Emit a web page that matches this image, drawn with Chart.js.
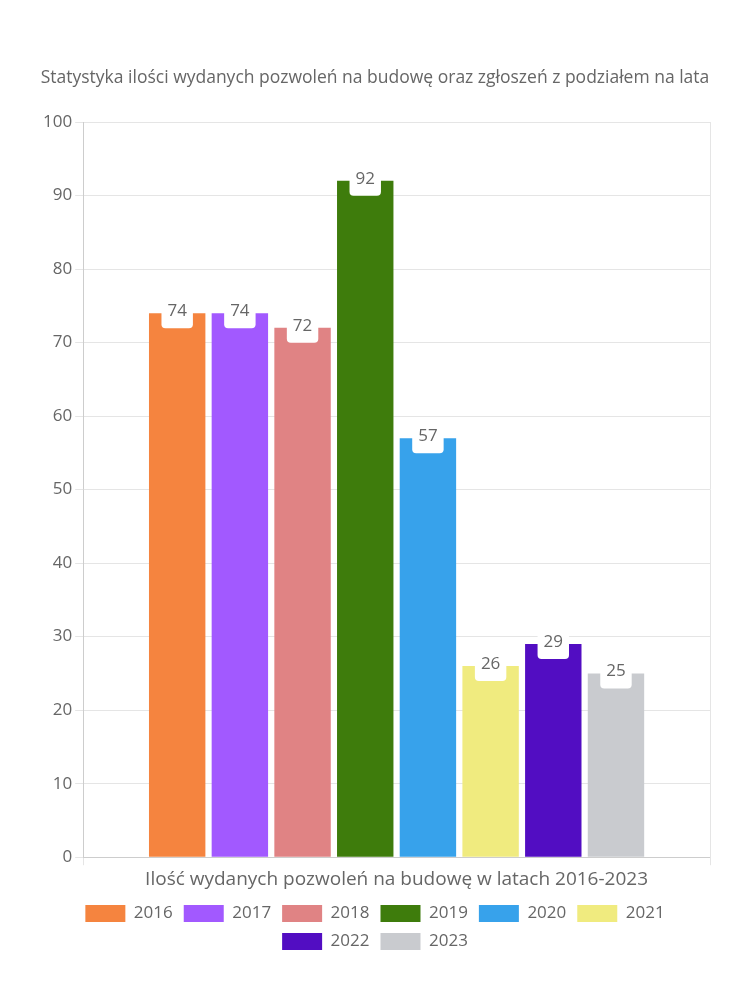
<!DOCTYPE html>
<html>
<head>
<meta charset="utf-8">
<script src="https://cdn.jsdelivr.net/npm/chart.js@4"></script>
<style>
  body { margin: 0; background: #fff; }
  #wrap { width: 750px; height: 1000px; }
</style>
</head>
<body>
<div id="wrap"><canvas id="chart"></canvas></div>
<script>
const categories = ["Ilość wydanych pozwoleń na budowę w latach 2016-2023"];
const years = ["2016", "2017", "2018", "2019", "2020", "2021", "2022", "2023"];
const permits = [74, 74, 72, 92, 57, 26, 29, 25];
const colors = ["#F5843F", "#A259FF", "#E08384", "#3E7C0C", "#37A2EB", "#F0EB7F", "#520DC2", "#C9CBCF"];
const yTicks = [0, 10, 20, 30, 40, 50, 60, 70, 80, 90, 100];

const FONT = "'Open Sans'";
const GREY = "#666";

// white rounded tag with the value at the top of every bar
const valueTags = {
  id: "valueTags",
  afterDatasetsDraw(chart) {
    const ctx = chart.ctx;
    ctx.save();
    ctx.font = "17px " + FONT;
    ctx.textAlign = "center";
    ctx.textBaseline = "middle";
    chart.data.datasets.forEach((ds, i) => {
      const meta = chart.getDatasetMeta(i);
      meta.data.forEach((bar, j) => {
        const txt = String(ds.data[j]);
        const w = ctx.measureText(txt).width + 12;
        const h = 30;
        ctx.fillStyle = "#fff";
        ctx.beginPath();
        ctx.roundRect(bar.x - w / 2, bar.y - h / 2, w, h, 4);
        ctx.fill();
        ctx.fillStyle = GREY;
        ctx.fillText(txt, bar.x, bar.y - 2);
      });
    });
    ctx.restore();
  }
};

const datasets = years.map((y, i) => ({
  label: y,
  data: [permits[i]],
  backgroundColor: colors[i],
  borderWidth: 0
}));

new Chart(document.getElementById("chart"), {
  type: "bar",
  data: { labels: categories, datasets: datasets },
  options: {
    responsive: true,
    maintainAspectRatio: false,
    animation: false,
    layout: { padding: { top: 68, right: 40, left: 40, bottom: 40 } },
    plugins: {
      title: {
        display: true,
        text: "Statystyka ilości wydanych pozwoleń na budowę oraz zgłoszeń z podziałem na lata",
        color: GREY,
        font: { family: FONT, size: 17.5, weight: "normal" },
        padding: { top: 0, bottom: 33 }
      },
      legend: {
        position: "bottom",
        labels: {
          color: GREY,
          font: { family: FONT, size: 17 },
          boxWidth: 40,
          padding: 11
        }
      },
      tooltip: { enabled: false }
    },
    scales: {
      x: {
        grid: { color: "#e5e5e5" },
        ticks: { color: GREY, font: { family: FONT, size: 19 }, padding: 3 }
      },
      y: {
        min: 0,
        max: 100,
        afterBuildTicks: (axis) => { axis.ticks = yTicks.map(v => ({ value: v })); },
        grid: { color: "#e5e5e5" },
        ticks: { color: GREY, font: { family: FONT, size: 17 } }
      }
    }
  },
  plugins: [valueTags]
});
</script>
</body>
</html>
